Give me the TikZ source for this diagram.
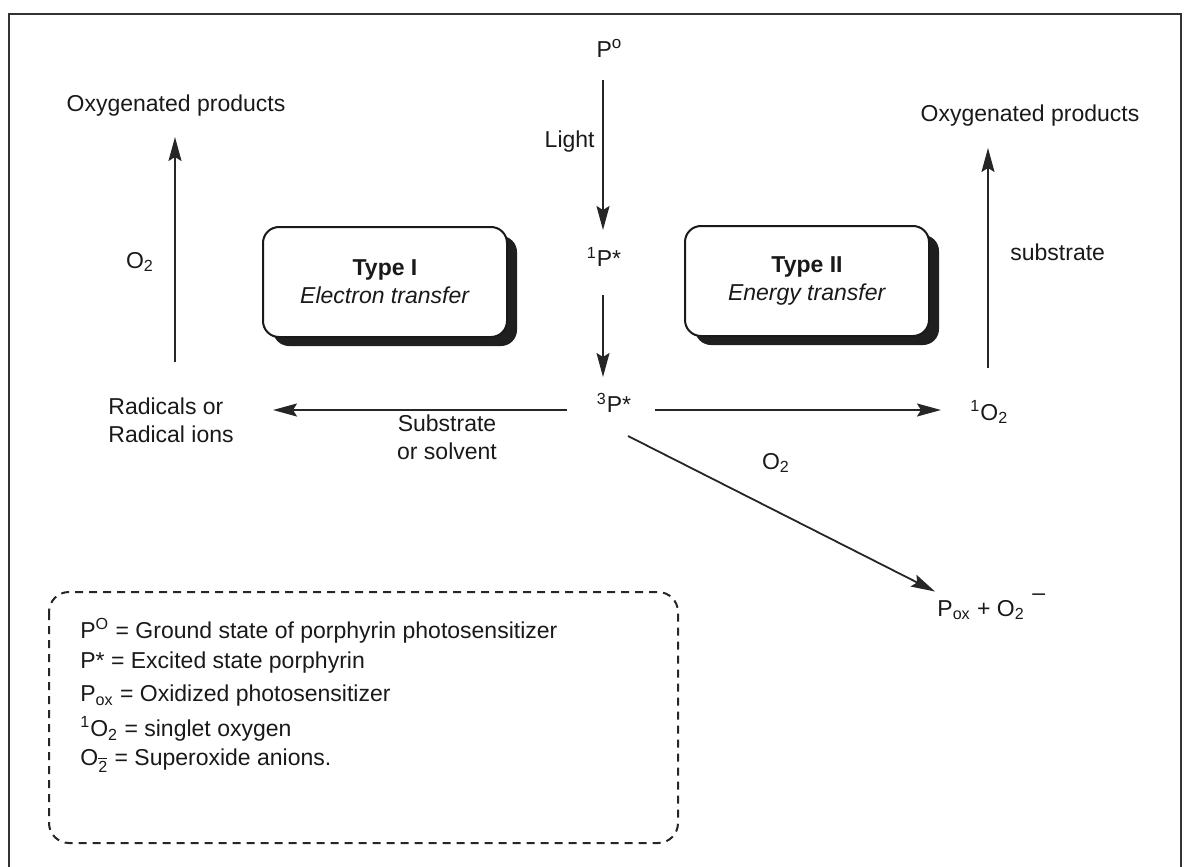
\documentclass[tikz,border=0pt]{standalone}
\usepackage{fontspec}
\setmainfont{Liberation Sans}
\usetikzlibrary{arrows.meta,shadows}
\begin{document}
\begin{tikzpicture}[x=0.5pt,y=-0.5pt,
  lbl/.style={font=\fontsize{11.5}{14}\selectfont, inner sep=1pt, text=black!90},
  arr/.style={line width=0.9pt, draw=black!85, -{Stealth[length=12pt,width=6.5pt,inset=2pt]}},
  typebox/.style={draw=black!90, line width=1pt, fill=white, rounded corners=8pt,
    minimum width=122pt, minimum height=55pt, align=center,
    font=\fontsize{11.5}{14}\selectfont, text=black!90,
    drop shadow={shadow xshift=5pt, shadow yshift=-4.5pt, fill=black!88, opacity=1}},
  legend/.style={draw=black!85, line width=1pt, dash pattern=on 4pt off 3pt, rounded corners=10pt}
]
\useasboundingbox (0,0) rectangle (1184,867);
% outer frame
\draw[line width=1.3pt, draw=black!80] (9,867) -- (9,14) -- (1181,14) -- (1181,867);

% central column
\node[lbl] (P0) at (609,48) {P\raisebox{0.75ex}{\fontsize{8.5}{9}\selectfont o}};
\node[lbl] (P1) at (604,257) {\textsuperscript{1}P*};
\node[lbl] (P3) at (614,403) {\textsuperscript{3}P*};
\coordinate (a1s) at (603,80);
\coordinate (a1e) at (603,230);
\draw[arr] (a1s) -- (a1e);
\node[lbl, anchor=east] (light) at (597,142) {Light};
\coordinate (a2s) at (603,295);
\coordinate (a2e) at (603,377);
\draw[arr] (a2s) -- (a2e);

% type boxes
\node[typebox] (t1) at (385,282) {\textbf{Type I}\\\textit{Electron transfer}};
\node[typebox] (t2) at (807,281) {\textbf{Type II}\\\textit{Energy transfer}};

% left branch
\node[lbl, anchor=west, align=left] (rad) at (106,420) {Radicals or\\Radical ions};
\coordinate (ls) at (567,410);
\coordinate (le) at (273,410);
\draw[arr] (ls) -- (le);
\node[lbl, align=center] (sub) at (447,437) {Substrate\\or solvent};
\coordinate (lu) at (175,362);
\coordinate (lt) at (175,137);
\draw[arr] (lu) -- (lt);
\node[lbl] (ox1) at (176,106) {Oxygenated products};
\node[lbl] (o2l) at (140,262) {O\textsubscript{2}};

% right branch
\node[lbl, anchor=west] (s1o2) at (968,412) {\textsuperscript{1}O\textsubscript{2}};
\coordinate (rs) at (655,410);
\coordinate (re) at (941,410);
\draw[arr] (rs) -- (re);
\node[lbl] (o2r) at (776,463) {O\textsubscript{2}};
\coordinate (ru) at (988,368);
\coordinate (rt) at (988,148);
\draw[arr] (ru) -- (rt);
\node[lbl] (ox2) at (1030,116) {Oxygenated products};
\node[lbl, anchor=west] (substr) at (1008,252) {substrate};

% diagonal
\node[lbl, anchor=west] (pox) at (935,607) {P\textsubscript{ox} + O\textsubscript{2}\raisebox{1.3ex}{\,\,–}};
\coordinate (ds) at (628,436);
\draw[arr] (ds) -- (pox.north west);

% legend
\draw[legend] (49,592) rectangle (678,843);
\node[lbl, anchor=west] (l1) at (78,631) {P\textsuperscript{O} = Ground state of porphyrin photosensitizer};
\node[lbl, anchor=west] (l2) at (78,663) {P* = Excited state porphyrin};
\node[lbl, anchor=west] (l3) at (78,696) {P\textsubscript{ox} = Oxidized photosensitizer};
\node[lbl, anchor=west] (l4) at (78,729) {\textsuperscript{1}O\textsubscript{2} = singlet oxygen};
\node[lbl, anchor=west] (l5) at (78,761) {O\textsubscript{$\overline{\mbox{2}}$} = Superoxide anions.};
\end{tikzpicture}
\end{document}
